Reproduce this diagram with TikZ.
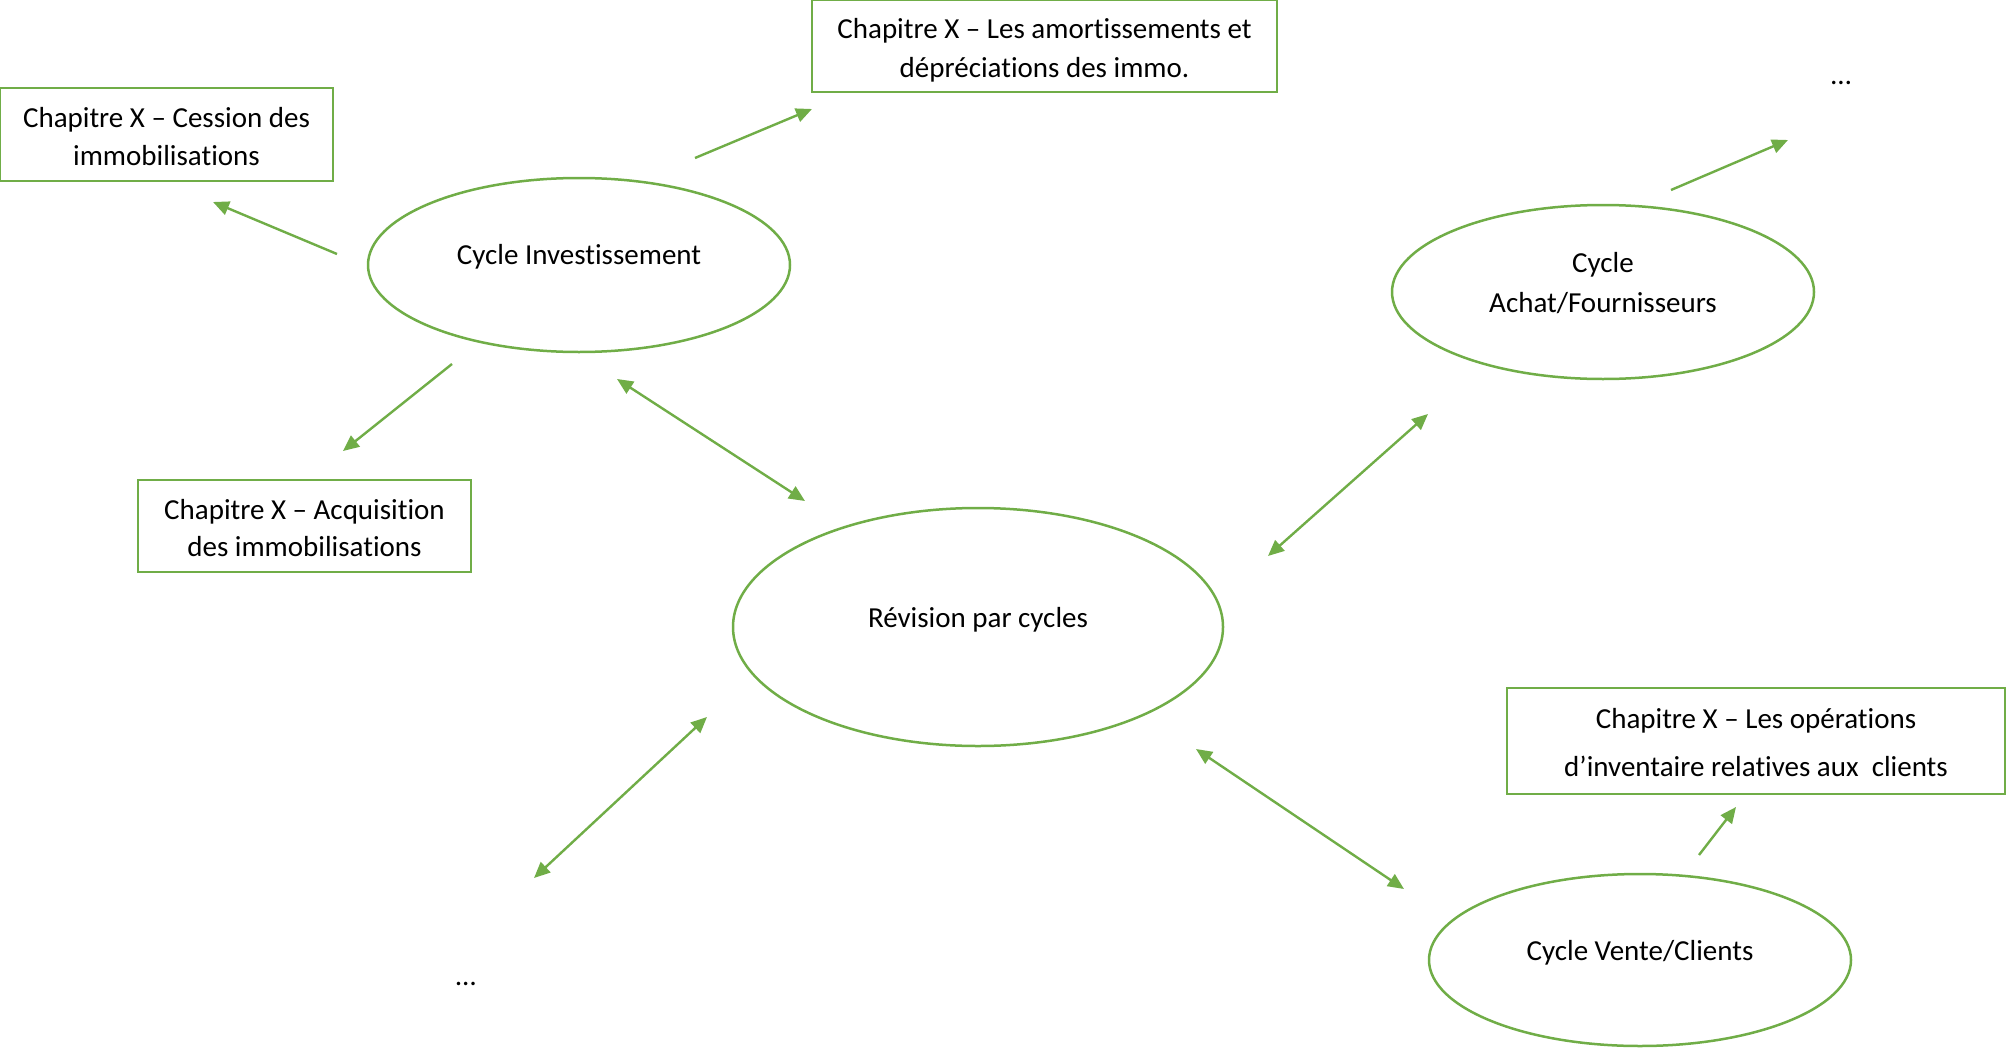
\documentclass[tikz,border=0pt]{standalone}
\usepackage{fontspec}
\setmainfont{Carlito}[Ligatures={NoCommon}]
\usetikzlibrary{shapes.geometric,arrows.meta}
\definecolor{grn}{HTML}{70AD47}
\tikzset{
  cyc/.style={draw=grn, line width=1.25pt, ellipse, inner sep=0pt},
  chbox/.style={draw=grn, line width=1.25pt, rectangle, inner sep=0pt},
  lbl/.style={inner sep=0pt, align=center, font=\fontsize{14.5}{20}\selectfont},
  arr/.style={draw=grn, line width=1.2pt, -{Triangle[length=8pt,width=7pt]}},
  darr/.style={draw=grn, line width=1.2pt, {Triangle[length=8pt,width=7pt]}-{Triangle[length=8pt,width=7pt]}}
}
\begin{document}
\begin{tikzpicture}[x=0.5pt,y=-0.5pt]
\useasboundingbox (0,0) rectangle (2008,1049);
% boxes
\node[chbox, minimum width=166.5pt, minimum height=46.5pt] (ces) at (166.5,134.5) {};
\node[lbl, font=\fontsize{14.5}{19}\selectfont] (cest) at (166.5,136.5) {Chapitre X – Cession des\\immobilisations};
\node[chbox, minimum width=232.5pt, minimum height=46pt] (amo) at (1044.5,46) {};
\node[lbl, font=\fontsize{14.5}{19.5}\selectfont] (amot) at (1044.5,50) {Chapitre X – Les amortissements et\\dépréciations des immo.};
\node[chbox, minimum width=166.5pt, minimum height=46pt] (acq) at (304.5,526) {};
\node[lbl, font=\fontsize{14.5}{18.5}\selectfont] (acqt) at (304.5,528.5) {Chapitre X – Acquisition\\des immobilisations};
\node[chbox, minimum width=249pt, minimum height=53pt] (ope) at (1756,741) {};
\node[lbl, font=\fontsize{14.5}{24}\selectfont] (opet) at (1756,742.5) {Chapitre X – Les opérations\\d’inventaire relatives aux\ \ clients};
% ellipses
\node[cyc, minimum width=211pt, minimum height=87pt] (inv) at (579,265) {};
\node[lbl] (invt) at (579,256.5) {Cycle Investissement};
\node[cyc, minimum width=211pt, minimum height=87pt] (ach) at (1603,292) {};
\node[lbl] (acht) at (1603,283) {Cycle\\Achat/Fournisseurs};
\node[cyc, minimum width=245pt, minimum height=119pt] (rev) at (978,627) {};
\node[lbl] (revt) at (978,619.5) {Révision par cycles};
\node[cyc, minimum width=211pt, minimum height=86pt] (ven) at (1640,960) {};
\node[lbl] (vent) at (1640,952.5) {Cycle Vente/Clients};
% dots
\node[lbl] (dtr) at (1841,83) {…};
\node[lbl] (dbl) at (466,984) {…};
% arrow end points
\coordinate (a1s) at (337,254); \coordinate (a1e) at (213,202);
\coordinate (a2s) at (695,158); \coordinate (a2e) at (812,109);
\coordinate (a3s) at (452,364); \coordinate (a3e) at (343,451);
\coordinate (a4s) at (617,379); \coordinate (a4e) at (805,501);
\coordinate (a5s) at (1428,414); \coordinate (a5e) at (1268,556);
\coordinate (a6s) at (1671,190); \coordinate (a6e) at (1788,140);
\coordinate (a7s) at (707,717); \coordinate (a7e) at (534,878);
\coordinate (a8s) at (1196,749); \coordinate (a8e) at (1404,889);
\coordinate (a9s) at (1699,855); \coordinate (a9e) at (1736,807);
\draw[arr] (a1s) -- (a1e);
\draw[arr] (a2s) -- (a2e);
\draw[arr] (a3s) -- (a3e);
\draw[darr] (a4s) -- (a4e);
\draw[darr] (a5s) -- (a5e);
\draw[arr] (a6s) -- (a6e);
\draw[darr] (a7s) -- (a7e);
\draw[darr] (a8s) -- (a8e);
\draw[arr] (a9s) -- (a9e);
\end{tikzpicture}
\end{document}
